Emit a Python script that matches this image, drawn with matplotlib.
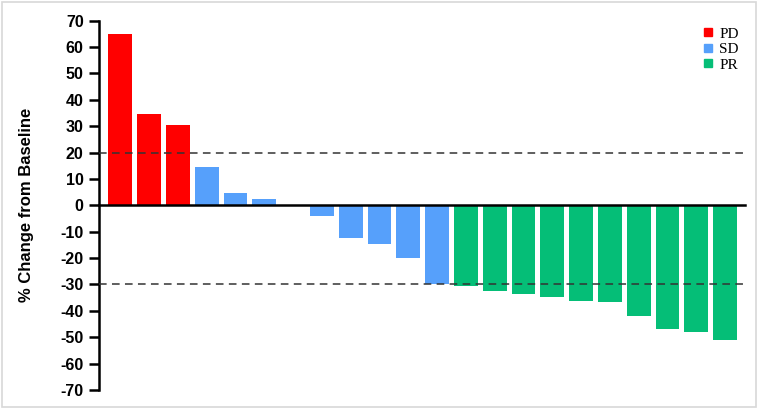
import matplotlib
matplotlib.use("Agg")
import matplotlib.pyplot as plt
from matplotlib.patches import Rectangle
from matplotlib.lines import Line2D

# ---- data ----
groups = ["PD", "SD", "PR"]
pd_values = [65, 34.5, 30.5]
sd_values = [14.5, 4.5, 2.5, 0, -4.2, -12.2, -14.7, -20.1, -30]
pr_values = [-30.6, -32.4, -33.5, -34.8, -36.2, -36.7, -41.9, -46.7, -48.2, -51.2]
yticks = list(range(-70, 71, 10))
thresholds = [20, -30]
ylabel = "% Change from Baseline"

colors = {"PD": "#ff0000", "SD": "#56a0fb", "PR": "#05be77"}

fig = plt.figure(figsize=(7.61, 4.12), dpi=100)
W, H = 761, 412
ax = fig.add_axes([99 / W, 1 - 390 / H, (745 - 99) / W, (390 - 20.7) / H])

# figure border
fig.patches.append(Rectangle((2 / W, 5 / H), 754 / W, 405 / H, transform=fig.transFigure,
                             fill=False, edgecolor="#d8d8d8", linewidth=1.2))

values = pd_values + sd_values + pr_values
cats = ["PD"] * len(pd_values) + ["SD"] * len(sd_values) + ["PR"] * len(pr_values)
x = list(range(len(values)))
ax.bar(x, values, width=0.83, color=[colors[c] for c in cats], zorder=2)

for t in thresholds:
    ax.axhline(t, color="#333333", linewidth=1.1, dashes=(5, 3.5), zorder=3)

ax.set_xlim(-0.74, len(values) - 1 + 0.69)
ax.set_ylim(-70, 70)
ax.set_yticks(yticks)
ax.set_yticklabels([str(v) for v in yticks], fontfamily="Liberation Sans",
                   fontweight="bold", fontsize=11.5)
ax.tick_params(axis="y", length=7, width=1.8, pad=4)
ax.set_xticks([])

ax.spines["top"].set_visible(False)
ax.spines["right"].set_visible(False)
ax.spines["bottom"].set_position(("data", 0))
ax.spines["bottom"].set_linewidth(1.8)
ax.spines["left"].set_linewidth(1.8)
ax.spines["bottom"].set_zorder(4)

ax.set_ylabel(ylabel, fontfamily="Liberation Sans", fontweight="bold", fontsize=12)
ax.yaxis.set_label_coords(-0.1, 0.5)

handles = [Line2D([], [], marker="s", linestyle="none", markersize=5.8,
                  markerfacecolor=colors[g], markeredgecolor=colors[g]) for g in groups]
leg = ax.legend(handles, groups, loc="upper right", bbox_to_anchor=(1.007, 1.012),
                frameon=False, prop={"family": "Liberation Serif", "size": 11},
                handlelength=0.6, handletextpad=0.45, labelspacing=0.12,
                borderaxespad=0.3)

fig.savefig("out.png", dpi=100)
